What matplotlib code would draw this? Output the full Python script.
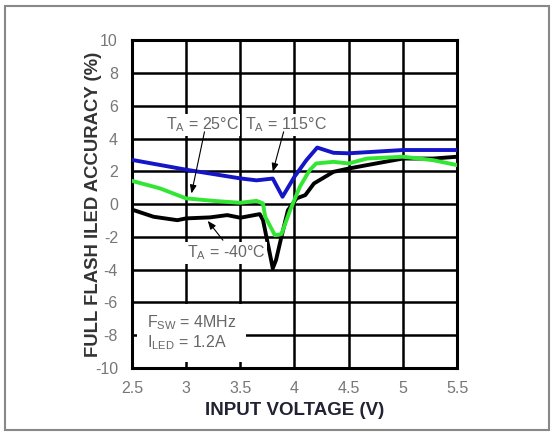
import matplotlib
matplotlib.use("Agg")
from matplotlib import pyplot as plt
from matplotlib.patches import Rectangle

plt.rcParams['font.family'] = ['Liberation Sans', 'DejaVu Sans']
plt.rcParams['mathtext.fontset'] = 'custom'
plt.rcParams['mathtext.rm'] = 'Liberation Sans'
plt.rcParams['axes.unicode_minus'] = False

# data (V, %)
v_115 = [2.5, 3.0, 3.5, 3.65, 3.8, 3.89, 4.0, 4.11, 4.21, 4.36, 4.5, 5.0, 5.5]
acc_115 = [2.7, 2.1, 1.57, 1.45, 1.56, 0.45, 1.67, 2.68, 3.45, 3.13, 3.1, 3.3, 3.3]

v_25 = [2.5, 2.76, 3.0, 3.25, 3.5, 3.65, 3.71, 3.73, 3.82, 3.88, 3.96, 4.05, 4.14,
        4.2, 4.36, 4.5, 4.67, 5.0, 5.28, 5.5]
acc_25 = [1.42, 0.96, 0.35, 0.2, 0.08, 0.2, 0.04, -0.77, -1.9, -1.83, -0.37, 1.06,
          2.07, 2.48, 2.58, 2.48, 2.78, 2.89, 2.68, 2.38]

v_m40 = [2.5, 2.7, 2.92, 3.0, 3.22, 3.38, 3.5, 3.68, 3.71, 3.76, 3.8, 3.83, 3.88,
         3.94, 4.02, 4.1, 4.18, 4.36, 4.5, 4.67, 5.0, 5.28, 5.5]
acc_m40 = [-0.33, -0.77, -0.98, -0.87, -0.81, -0.67, -0.83, -0.61, -0.98, -2.6,
           -3.92, -3.41, -1.99, -0.37, 0.35, 0.55, 1.26, 1.97, 2.17, 2.38, 2.78,
           2.78, 2.89]

xticks = [2.5, 3, 3.5, 4, 4.5, 5, 5.5]
xticklabels = ['2.5', '3', '3.5', '4', '4.5', '5', '5.5']
yticks = [10, 8, 6, 4, 2, 0, -2, -4, -6, -8, -10]

fig = plt.figure(figsize=(5.54, 4.32), dpi=100)
ax = fig.add_axes([0.238, 0.148, 0.587, 0.759])

# outer frame round the figure
fig.patches.append(Rectangle((0.009, 0.005), 0.982, 0.98, transform=fig.transFigure,
                             fill=False, edgecolor='#888888', linewidth=1.5))

ax.plot(v_115, acc_115, color='#1515c8', lw=2.8, zorder=3)
ax.plot(v_m40, acc_m40, color='black', lw=2.8, zorder=3)
ax.plot(v_25, acc_25, color='#33e633', lw=2.8, zorder=4)

ax.set_xlim(2.5, 5.5)
ax.set_ylim(-10, 10)
ax.set_xticks(xticks)
ax.set_xticklabels(xticklabels)
ax.set_yticks(yticks)
ax.grid(True, color='black', lw=1.8, zorder=1)
ax.set_axisbelow(True)
for s in ax.spines.values():
    s.set_linewidth(2.2)
ax.tick_params(length=0, labelsize=11.5, labelcolor='#777777')
ax.tick_params(axis='y', pad=10)
ax.tick_params(axis='x', pad=9)

ax.set_xlabel('INPUT VOLTAGE (V)', fontsize=13.5, fontweight='bold', color='#222233')
ax.set_ylabel('FULL FLASH ILED ACCURACY (%)', fontsize=13.3, fontweight='bold', color='#333333')
ax.xaxis.set_label_coords(0.5, -0.105)
ax.yaxis.set_label_coords(-0.092, 0.5)

box = dict(facecolor='white', edgecolor='none', pad=1)
tcol = '#666666'
ax.text(3.15, 4.82, r'T$_\mathregular{A}$ = 25°C', fontsize=11.5, color=tcol,
        ha='center', va='center', bbox=box, zorder=5)
ax.text(3.92, 4.82, r'T$_\mathregular{A}$ = 115°C', fontsize=11.5, color=tcol,
        ha='center', va='center', bbox=box, zorder=5)
ax.text(3.37, -2.97, r'T$_\mathregular{A}$ = -40°C', fontsize=11.5, color=tcol,
        ha='center', va='center', bbox=box, zorder=5)

arrow = dict(arrowstyle='-|>,head_length=0.5,head_width=0.2', color='black',
             lw=0.8, shrinkA=0, shrinkB=0)
ax.annotate('', xy=(3.05, 0.65), xytext=(3.17, 4.41), arrowprops=arrow, zorder=6)
ax.annotate('', xy=(3.80, 1.97), xytext=(3.9, 4.41), arrowprops=arrow, zorder=6)
ax.annotate('', xy=(3.2, -1.02), xytext=(3.34, -2.2), arrowprops=arrow, zorder=6)

ax.text(2.64, -7.85, 'F$_\\mathregular{SW}$ = 4MHz\nI$_\\mathregular{LED}$ = 1.2A',
        fontsize=11.5, color=tcol, ha='left', va='center', linespacing=1.1,
        bbox=dict(facecolor='white', edgecolor='none', pad=7), zorder=5)

fig.savefig('out.png', dpi=100)
